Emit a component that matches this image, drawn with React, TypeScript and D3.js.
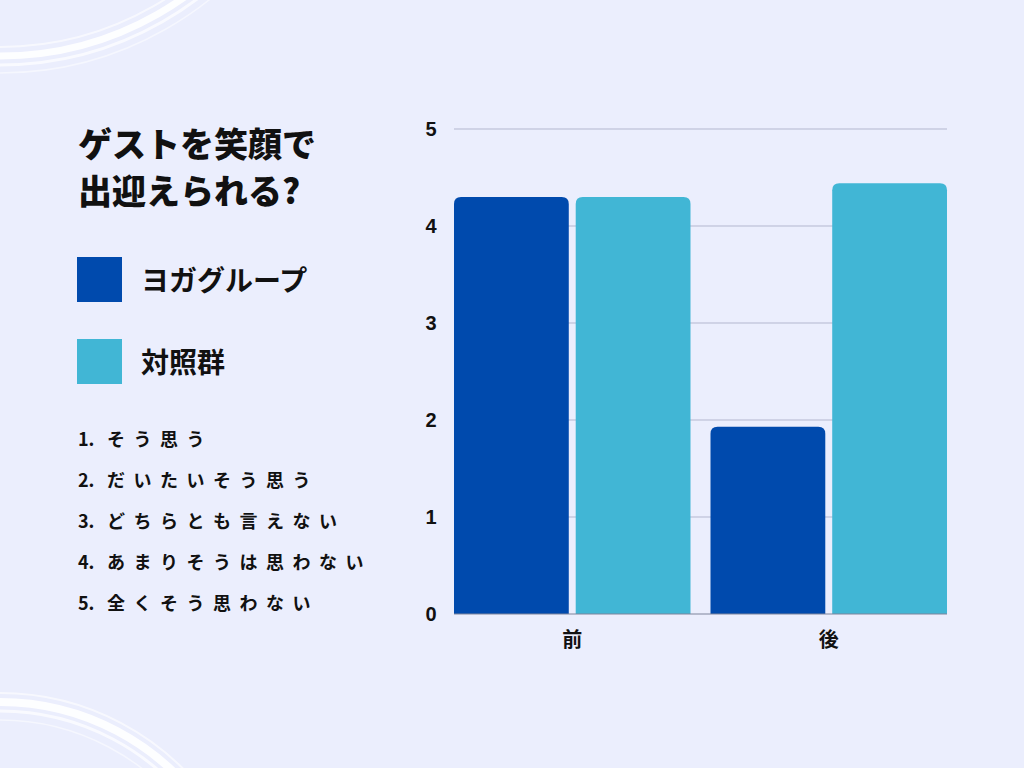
import React, { useEffect, useRef } from 'react';
import * as d3 from 'd3';

const periods = ['前', '後'];
const groups = ['ヨガグループ', '対照群'];
const yogaValues = [4.3, 1.93];
const controlValues = [4.3, 4.44];
const yTicks = [0, 1, 2, 3, 4, 5];
const titleLines = ['ゲストを笑顔で', '出迎えられる?'];
const scaleNumbers = ['1.', '2.', '3.', '4.', '5.'];
const scaleLabels = [
  'そう思う',
  'だいたいそう思う',
  'どちらとも言えない',
  'あまりそうは思わない',
  '全くそう思わない'
];

const colors = {
  background: '#EBEEFD',
  yoga: '#004AAD',
  control: '#41B6D5',
  text: '#111111',
  grid: '#B3B7CF',
  baseline: '#7E839C'
};

const FONT = '"Noto Sans CJK JP", "Noto Sans", sans-serif';

const App: React.FC = () => {
  const svgRef = useRef<SVGSVGElement>(null);
  const width = 1024;
  const height = 768;

  useEffect(() => {
    if (!svgRef.current) return;
    const svg = d3.select(svgRef.current);
    svg.selectAll('*').remove();

    svg.append('rect')
      .attr('width', width)
      .attr('height', height)
      .attr('fill', colors.background);

    // decorative brush arcs
    const deco = svg.append('g').attr('fill', 'none').attr('stroke', '#ffffff');
    const topArcs = [
      { r: 318, w: 7, o: 0.9 },
      { r: 327, w: 3, o: 0.7 },
      { r: 309, w: 2, o: 0.6 },
      { r: 335, w: 1.5, o: 0.5 }
    ];
    topArcs.forEach(a => {
      const arc = d3.path();
      arc.arc(0, -262, a.r, Math.PI * 0.5, Math.PI * 0.17, true);
      deco.append('path').attr('d', arc.toString())
        .attr('stroke-width', a.w).attr('opacity', a.o);
    });
    const bottomArcs = [
      { r: 250, w: 8, o: 0.9 },
      { r: 241, w: 3, o: 0.7 },
      { r: 259, w: 2, o: 0.6 },
      { r: 232, w: 1.5, o: 0.5 }
    ];
    bottomArcs.forEach(a => {
      const arc = d3.path();
      arc.arc(0, 952, a.r, -Math.PI * 0.5, -Math.PI * 0.19, false);
      deco.append('path').attr('d', arc.toString())
        .attr('stroke-width', a.w).attr('opacity', a.o);
    });

    // title
    titleLines.forEach((t, i) => {
      svg.append('text')
        .attr('x', 78)
        .attr('y', 157 + i * 47)
        .attr('font-family', FONT)
        .attr('font-size', 34)
        .attr('font-weight', 900)
        .attr('fill', colors.text)
        .text(t);
    });

    // legend
    const legendColors = [colors.yoga, colors.control];
    groups.forEach((g, i) => {
      const y = 257 + i * 82;
      svg.append('rect')
        .attr('x', 77).attr('y', y)
        .attr('width', 45).attr('height', 45)
        .attr('fill', legendColors[i]);
      svg.append('text')
        .attr('x', 141).attr('y', y + 22)
        .attr('dominant-baseline', 'central')
        .attr('font-family', FONT)
        .attr('font-size', 28)
        .attr('font-weight', 700)
        .attr('fill', colors.text)
        .text(g);
    });

    // response scale list
    scaleLabels.forEach((s, i) => {
      const t = svg.append('text')
        .attr('x', 78).attr('y', 438 + i * 41)
        .attr('dominant-baseline', 'central')
        .attr('font-family', FONT)
        .attr('font-size', 18)
        .attr('font-weight', 700)
        .attr('fill', colors.text);
      t.append('tspan').text(scaleNumbers[i]);
      t.append('tspan')
        .attr('x', 107)
        .attr('letter-spacing', 8.5)
        .text(s);
    });

    // chart
    const left = 454, right = 947, top = 129, bottom = 614;
    const yScale = d3.scaleLinear().domain([0, 5]).range([bottom, top]);
    const x0 = d3.scaleBand().domain(periods).range([left, right]).paddingInner(0.078).paddingOuter(0);
    const x1 = d3.scaleBand().domain(groups).range([0, x0.bandwidth()]).paddingInner(0.057);

    const grid = svg.append('g');
    yTicks.filter(t => t > 0).forEach(t => {
      grid.append('line')
        .attr('x1', left).attr('x2', right)
        .attr('y1', yScale(t)).attr('y2', yScale(t))
        .attr('stroke', colors.grid).attr('stroke-width', 1);
    });

    yTicks.forEach(t => {
      svg.append('text')
        .attr('x', 431).attr('y', yScale(t))
        .attr('text-anchor', 'middle')
        .attr('dominant-baseline', 'central')
        .attr('font-family', '"Liberation Sans", Arial, sans-serif')
        .attr('font-size', 20)
        .attr('font-weight', 700)
        .attr('fill', colors.text)
        .text(t);
    });

    const rounded = (x: number, y: number, w: number, h: number, r: number) =>
      `M${x},${y + h}V${y + r}Q${x},${y} ${x + r},${y}H${x + w - r}Q${x + w},${y} ${x + w},${y + r}V${y + h}Z`;

    const series = [
      { key: groups[0], values: yogaValues, color: colors.yoga },
      { key: groups[1], values: controlValues, color: colors.control }
    ];
    periods.forEach((p, pi) => {
      series.forEach(s => {
        const x = (x0(p) ?? 0) + (x1(s.key) ?? 0);
        const y = yScale(s.values[pi]);
        svg.append('path')
          .attr('d', rounded(x, y, x1.bandwidth(), bottom - y, 7))
          .attr('fill', s.color);
      });
      svg.append('text')
        .attr('x', (x0(p) ?? 0) + x0.bandwidth() / 2)
        .attr('y', 638)
        .attr('text-anchor', 'middle')
        .attr('dominant-baseline', 'central')
        .attr('font-family', FONT)
        .attr('font-size', 20)
        .attr('font-weight', 700)
        .attr('fill', colors.text)
        .text(p);
    });

    svg.append('line')
      .attr('x1', left).attr('x2', right)
      .attr('y1', bottom).attr('y2', bottom)
      .attr('stroke', colors.baseline).attr('stroke-width', 1.2);
  }, []);

  return (
    <svg
      ref={svgRef}
      width={width}
      height={height}
      style={{ position: 'absolute', left: 0, top: 0, display: 'block' }}
    />
  );
};

export default App;
